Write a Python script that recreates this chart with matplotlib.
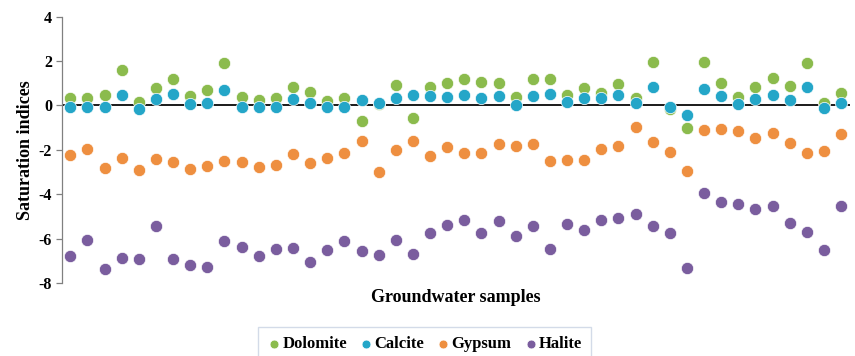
import matplotlib
matplotlib.use("Agg")
import matplotlib.pyplot as plt
import numpy as np

samples = list(range(1, 47))
dolomite = [0.35, 0.35, 0.48, 1.61, 0.17, 0.80, 1.19, 0.41, 0.69, 1.92,
            0.39, 0.23, 0.33, 0.81, 0.62, 0.21, 0.33, -0.71, 0.06, 0.92,
            -0.57, 0.83, 1.02, 1.19, 1.04, 1.02, 0.38, 1.19, 1.20, 0.47,
            0.78, 0.57, 0.95, 0.33, 1.98, -0.18, -1.02, 1.94, 1.02, 0.39,
            0.81, 1.25, 0.86, 1.92, 0.12, 0.56]
calcite = [-0.09, -0.05, -0.06, 0.48, -0.15, 0.30, 0.50, 0.05, 0.11, 0.68,
           -0.05, -0.09, -0.06, 0.27, 0.12, -0.08, -0.05, 0.26, 0.09, 0.32,
           0.48, 0.41, 0.36, 0.47, 0.35, 0.42, 0.00, 0.44, 0.51, 0.17,
           0.33, 0.32, 0.45, 0.12, 0.83, -0.08, -0.45, 0.75, 0.44, 0.05,
           0.29, 0.47, 0.26, 0.83, -0.11, 0.11]
gypsum = [-2.25, -1.97, -2.81, -2.36, -2.90, -2.42, -2.55, -2.88, -2.72, -2.51,
          -2.57, -2.79, -2.67, -2.18, -2.58, -2.36, -2.15, -1.62, -2.99, -2.01,
          -1.61, -2.27, -1.86, -2.16, -2.12, -1.73, -1.82, -1.73, -2.52, -2.48,
          -2.45, -1.98, -1.82, -0.99, -1.64, -2.09, -2.97, -1.11, -1.05, -1.17,
          -1.47, -1.26, -1.71, -2.16, -2.03, -1.29]
halite = [-6.80, -6.08, -7.35, -6.86, -6.91, -5.42, -6.94, -7.20, -7.26, -6.11,
          -6.37, -6.80, -6.47, -6.44, -7.06, -6.50, -6.10, -6.58, -6.76, -6.05,
          -6.70, -5.75, -5.38, -5.15, -5.77, -5.20, -5.90, -5.41, -6.46, -5.36,
          -5.60, -5.17, -5.05, -4.91, -5.41, -5.74, -7.32, -3.94, -4.34, -4.45,
          -4.67, -4.51, -5.30, -5.71, -6.50, -4.54]

series_names = ["Dolomite", "Calcite", "Gypsum", "Halite"]
series_vals = [dolomite, calcite, gypsum, halite]
colors = ["#8BBB4D", "#24A6C8", "#EE8F40", "#7A5D9E"]
yticks = [4, 2, 0, -2, -4, -6, -8]

plt.rcParams['font.family'] = ['Liberation Serif', 'DejaVu Serif']
plt.rcParams['font.weight'] = 'bold'
plt.rcParams['axes.unicode_minus'] = False

fig = plt.figure(figsize=(8.55, 3.56), dpi=100)
ax = fig.add_axes([0.0722, 0.2051, 0.9216, 0.748])

x = np.array(samples)
for name, vals, c in zip(series_names, series_vals, colors):
    ax.scatter(x, vals, s=78, color=c, edgecolors='white', linewidths=0.5,
               label=name, zorder=3)

ax.axhline(0, color='#1a1a1a', lw=1.4, zorder=2)
ax.set_xlim(0.5, len(samples) + 0.5)
ax.set_ylim(-8, 4)
ax.set_yticks(yticks)
ax.set_yticklabels([str(t) for t in yticks], fontsize=11.5, fontweight='bold')
ax.set_xticks([])
for s in ['top', 'right', 'bottom']:
    ax.spines[s].set_visible(False)
ax.spines['left'].set_color('#808080')
ax.spines['left'].set_linewidth(0.9)
ax.tick_params(axis='y', direction='out', length=4, width=0.9, color='#808080', pad=3)

ax.set_ylabel("Saturation indices", fontsize=13, fontweight='bold', labelpad=3)
fig.text(0.533, 1 - 297 / 356, "Groundwater samples", fontsize=13,
         fontweight='bold', ha='center', va='center')

leg = fig.legend(loc='upper left', bbox_to_anchor=(258 / 855, 1 - 327 / 356),
                 ncol=4, frameon=True, fontsize=12, markerscale=0.72,
                 handletextpad=0.1, columnspacing=0.75, borderpad=0.55,
                 borderaxespad=0.0, handlelength=0.8, fancybox=False)
leg.get_frame().set_edgecolor('#C8D3E3')
leg.get_frame().set_linewidth(1.0)
for t in leg.get_texts():
    t.set_fontweight('bold')

fig.savefig("out.png", dpi=100)
